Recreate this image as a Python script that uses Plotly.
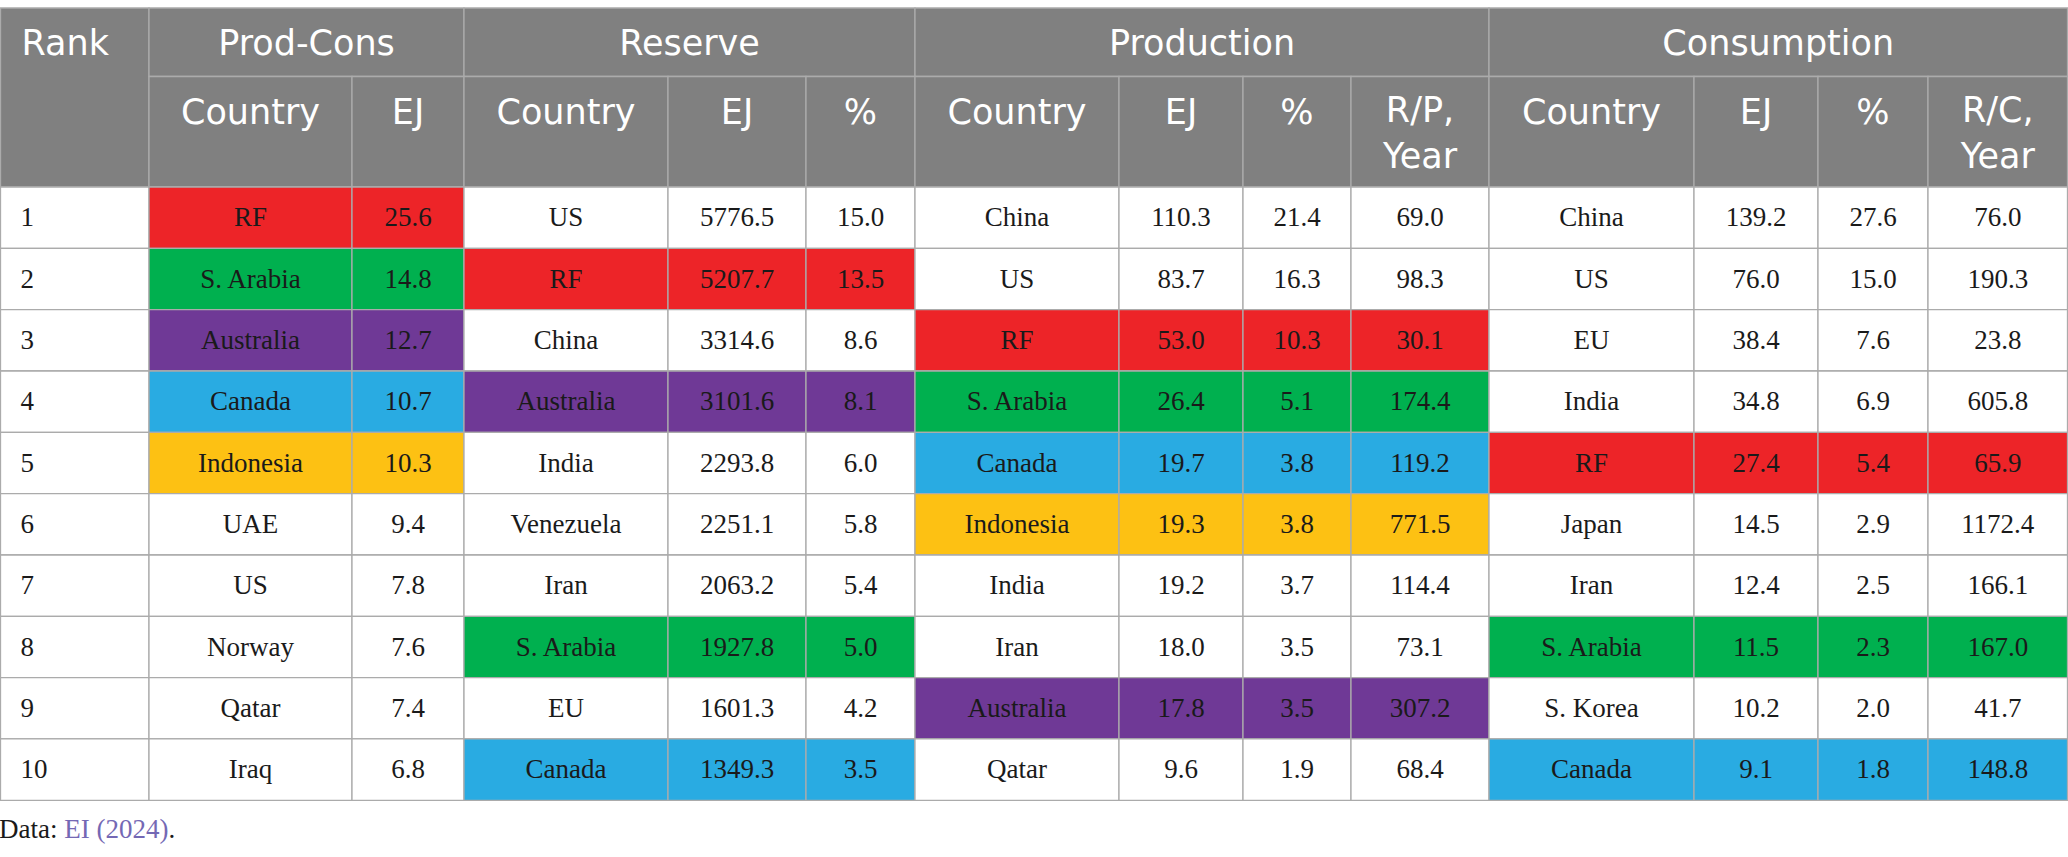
import plotly.graph_objects as go

# ---------------- data ----------------
ranks = [1, 2, 3, 4, 5, 6, 7, 8, 9, 10]
pc_country = ["RF", "S. Arabia", "Australia", "Canada", "Indonesia", "UAE", "US", "Norway", "Qatar", "Iraq"]
pc_ej = [25.6, 14.8, 12.7, 10.7, 10.3, 9.4, 7.8, 7.6, 7.4, 6.8]
res_country = ["US", "RF", "China", "Australia", "India", "Venezuela", "Iran", "S. Arabia", "EU", "Canada"]
res_ej = [5776.5, 5207.7, 3314.6, 3101.6, 2293.8, 2251.1, 2063.2, 1927.8, 1601.3, 1349.3]
res_pct = [15.0, 13.5, 8.6, 8.1, 6.0, 5.8, 5.4, 5.0, 4.2, 3.5]
prod_country = ["China", "US", "RF", "S. Arabia", "Canada", "Indonesia", "India", "Iran", "Australia", "Qatar"]
prod_ej = [110.3, 83.7, 53.0, 26.4, 19.7, 19.3, 19.2, 18.0, 17.8, 9.6]
prod_pct = [21.4, 16.3, 10.3, 5.1, 3.8, 3.8, 3.7, 3.5, 3.5, 1.9]
prod_rp = [69.0, 98.3, 30.1, 174.4, 119.2, 771.5, 114.4, 73.1, 307.2, 68.4]
cons_country = ["China", "US", "EU", "India", "RF", "Japan", "Iran", "S. Arabia", "S. Korea", "Canada"]
cons_ej = [139.2, 76.0, 38.4, 34.8, 27.4, 14.5, 12.4, 11.5, 10.2, 9.1]
cons_pct = [27.6, 15.0, 7.6, 6.9, 5.4, 2.9, 2.5, 2.3, 2.0, 1.8]
cons_rc = [76.0, 190.3, 23.8, 605.8, 65.9, 1172.4, 166.1, 167.0, 41.7, 148.8]

group_titles = ["Prod-Cons", "Reserve", "Production", "Consumption"]
sub_headers = ["Country", "EJ", "Country", "EJ", "%", "Country", "EJ", "%", "R/P,<br>Year",
               "Country", "EJ", "%", "R/C,<br>Year"]
source_text = "Data: "
source_link = "EI (2024)"

# ---------------- styling / layout ----------------
W, H = 2068, 857
col_edges = [0.5, 149, 352, 464, 668, 806, 915, 1119, 1243, 1351, 1489, 1694, 1818, 1928, 2067.5]
group_spans = [(1, 3), (3, 6), (6, 10), (10, 14)]  # column index ranges for group headers
top_y = 8
head1_bottom = 76.5
head2_bottom = 187
row_h = 61.33

highlight = {"RF": "#ed2428", "S. Arabia": "#00b04f", "Australia": "#6f3996",
             "Canada": "#29abe2", "Indonesia": "#fdc113"}
header_fill = "#808080"
border = "#ababab"
text_color = "#1a1a1a"
sans = "DejaVu Sans"
serif = "Liberation Serif"
head_size = 35

fmt = lambda v: f"{v:.1f}"
body_cols = [
    ([str(r) for r in ranks], None),
    (pc_country, pc_country), ([fmt(v) for v in pc_ej], pc_country),
    (res_country, res_country), ([fmt(v) for v in res_ej], res_country), ([fmt(v) for v in res_pct], res_country),
    (prod_country, prod_country), ([fmt(v) for v in prod_ej], prod_country),
    ([fmt(v) for v in prod_pct], prod_country), ([fmt(v) for v in prod_rp], prod_country),
    (cons_country, cons_country), ([fmt(v) for v in cons_ej], cons_country),
    ([fmt(v) for v in cons_pct], cons_country), ([fmt(v) for v in cons_rc], cons_country),
]

shapes = []


def rect(x0, x1, y0, y1, fill):
    shapes.append(dict(type="rect", xref="x", yref="y", x0=x0, x1=x1, y0=y0, y1=y1,
                       fillcolor=fill, line=dict(color=border, width=1.3), layer="below"))


# header cells
rect(col_edges[0], col_edges[1], top_y, head2_bottom, header_fill)
for a, b in group_spans:
    rect(col_edges[a], col_edges[b], top_y, head1_bottom, header_fill)
for i in range(1, len(col_edges) - 1):
    rect(col_edges[i], col_edges[i + 1], head1_bottom, head2_bottom, header_fill)

# body cells
for ci, (vals, key) in enumerate(body_cols):
    for ri in range(len(ranks)):
        fill = "white"
        if key is not None:
            fill = highlight.get(key[ri], "white")
        rect(col_edges[ci], col_edges[ci + 1], head2_bottom + ri * row_h,
             head2_bottom + (ri + 1) * row_h, fill)

fig = go.Figure()

# header texts
fig.add_trace(go.Scatter(x=[col_edges[0] + 21], y=[46], text=["Rank"], mode="text",
                         textposition="middle right",
                         textfont=dict(family=sans, size=head_size, color="white"),
                         hoverinfo="skip", showlegend=False))
fig.add_trace(go.Scatter(x=[(col_edges[a] + col_edges[b]) / 2 for a, b in group_spans],
                         y=[46] * len(group_spans), text=group_titles, mode="text",
                         textposition="middle center",
                         textfont=dict(family=sans, size=head_size, color="white"),
                         hoverinfo="skip", showlegend=False))
sub_x = [(col_edges[i] + col_edges[i + 1]) / 2 for i in range(1, len(col_edges) - 1)]
sub_y = [136 if "<br>" in s else 115 for s in sub_headers]
fig.add_trace(go.Scatter(x=sub_x, y=sub_y, text=sub_headers, mode="text",
                         textposition="middle center",
                         textfont=dict(family=sans, size=head_size, color="white"),
                         hoverinfo="skip", showlegend=False))

# body texts
for ci, (vals, key) in enumerate(body_cols):
    ys = [head2_bottom + (ri + 0.5) * row_h + 2 for ri in range(len(vals))]
    if ci == 0:
        xs = [col_edges[0] + 20] * len(vals)
        pos = "middle right"
    else:
        xs = [(col_edges[ci] + col_edges[ci + 1]) / 2] * len(vals)
        pos = "middle center"
    fig.add_trace(go.Scatter(x=xs, y=ys, text=vals, mode="text", textposition=pos,
                             textfont=dict(family=serif, size=27, color=text_color),
                             hoverinfo="skip", showlegend=False))

# source line
fig.add_trace(go.Scatter(x=[-1], y=[831],
                         text=[source_text + f"<span style='color:#7468b4'>{source_link}</span>."],
                         mode="text", textposition="middle right",
                         textfont=dict(family=serif, size=27, color=text_color),
                         hoverinfo="skip", showlegend=False))

fig.update_layout(
    width=W, height=H, margin=dict(l=0, r=0, t=0, b=0),
    paper_bgcolor="white", plot_bgcolor="white", shapes=shapes,
    xaxis=dict(range=[0, W], visible=False, fixedrange=True),
    yaxis=dict(range=[H, 0], visible=False, fixedrange=True),
)

fig.write_html("out.html", config={"displayModeBar": False},
               post_script="document.body.style.margin='0';document.body.style.overflow='hidden';")
